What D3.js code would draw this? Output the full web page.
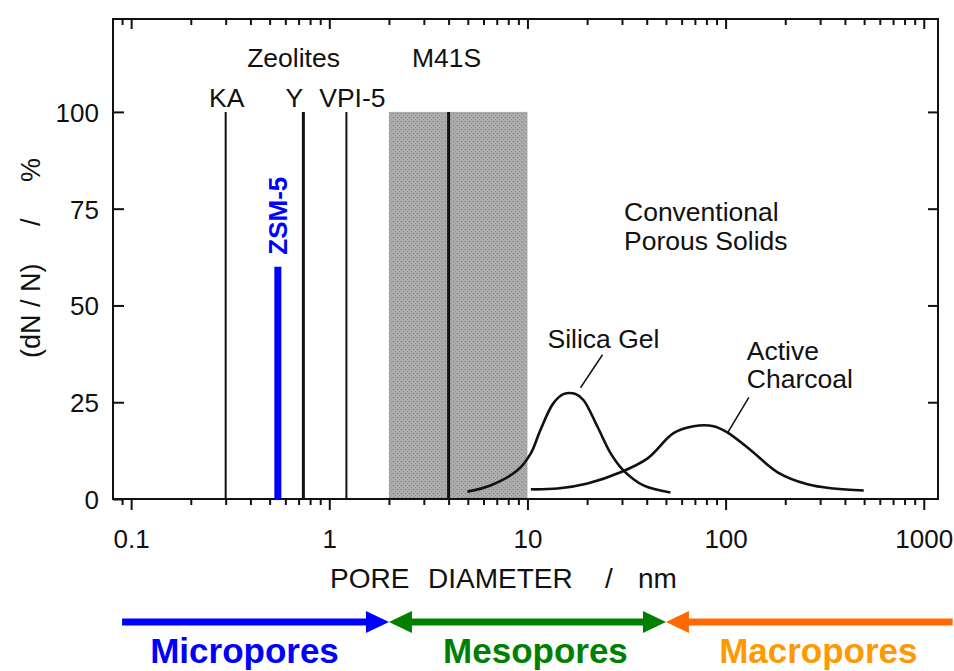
<!DOCTYPE html>
<html>
<head>
<meta charset="utf-8">
<script src="https://cdnjs.cloudflare.com/ajax/libs/d3/7.8.5/d3.min.js"></script>
<style>
  html, body { margin: 0; padding: 0; background: #fff; }
  svg { display: block; font-family: "Liberation Sans", Arial, Helvetica, sans-serif; }
</style>
</head>
<body>
<svg id="chart" width="954" height="671"></svg>
<script>
// data
const majorTicks = [0.1, 1, 10, 100, 1000];
const yTicks = [0, 25, 50, 75, 100];

const zeoliteNames = ["KA", "ZSM-5", "Y", "VPI-5"];
const zeolitePores = [0.30, 0.55, 0.74, 1.22];   // nm
const zeoliteHeights = [100, 60, 100, 100];     // %

const m41sRange = [2, 10];
const m41sPore = 4.0;
const m41sHeight = 100;

const silicaX = [4.98, 6.5, 8.9, 10.4, 11.6, 13.5, 15.2, 17.5, 19.2, 22.6, 26.3, 30.5, 38.5, 52.7];
const silicaY = [1.9, 3.5, 7.4, 11.8, 17.7, 24.7, 27.1, 27.1, 25.5, 18.6, 11.8, 7.4, 3.5, 1.7];

const charcoalX = [10.4, 14.2, 20.1, 29.5, 40.4, 54.6, 68.9, 87.0, 102, 134, 183, 259, 351, 498];
const charcoalY = [2.5, 2.7, 4.0, 6.9, 10.5, 17.0, 18.8, 18.8, 17.2, 12.6, 6.9, 3.8, 2.7, 2.2];

const poreClasses = ["Micropores", "Mesopores", "Macropores"];
const classBounds = [0.09, 2, 50, 1400];

(function () {
const svg = d3.select("#chart");
const mLeft = 113, mRight = 938, mTop = 19, mBottom = 499;

const x = d3.scaleLog().domain([0.081, 1180]).range([mLeft, mRight]);
const y = d3.scaleLinear().domain([0, 124]).range([mBottom, mTop]);

svg.append("rect").attr("width", 954).attr("height", 671).attr("fill", "#fff");

// halftone-like fill for the M41S band
const defs = svg.append("defs");
const pat = defs.append("pattern").attr("id", "halftone")
  .attr("width", 4).attr("height", 4).attr("patternUnits", "userSpaceOnUse");
pat.append("rect").attr("width", 4).attr("height", 4).attr("fill", "#ababab");
pat.append("rect").attr("x", 1).attr("y", 1).attr("width", 1).attr("height", 1).attr("fill", "#808080");
pat.append("rect").attr("x", 3).attr("y", 3).attr("width", 1).attr("height", 1).attr("fill", "#939393");

svg.append("rect")
  .attr("x", x(m41sRange[0]))
  .attr("y", y(m41sHeight))
  .attr("width", x(m41sRange[1]) - x(m41sRange[0]))
  .attr("height", y(0) - y(m41sHeight))
  .attr("fill", "url(#halftone)");

// axes: minor + major ticks
const allTicks = x.ticks().filter(t => t >= 0.09 && t <= 1000);
const minorTicks = allTicks.filter(t => !majorTicks.some(m => Math.abs(m - t) < 1e-9));

svg.append("g").attr("transform", `translate(0,${mBottom})`)
  .call(d3.axisBottom(x).tickValues(minorTicks).tickSize(6).tickSizeOuter(0).tickFormat(""));
svg.append("g").attr("class", "xmajor").attr("transform", `translate(0,${mBottom})`)
  .call(d3.axisBottom(x).tickValues(majorTicks).tickSize(11).tickSizeOuter(0).tickPadding(20)
    .tickFormat(d => d3.format("~g")(d)));
svg.append("g").attr("transform", `translate(0,${mTop})`)
  .call(d3.axisTop(x).tickValues(minorTicks).tickSize(-6).tickSizeOuter(0).tickFormat(""));
svg.append("g").attr("transform", `translate(0,${mTop})`)
  .call(d3.axisTop(x).tickValues(majorTicks).tickSize(-10).tickSizeOuter(0).tickFormat(""));

svg.append("g").attr("class", "ymajor").attr("transform", `translate(${mLeft},0)`)
  .call(d3.axisLeft(y).tickValues(yTicks).tickSize(-11).tickSizeOuter(0).tickPadding(14));
svg.append("g").attr("transform", `translate(${mRight},0)`)
  .call(d3.axisRight(y).tickValues(yTicks.slice(1)).tickSize(-10).tickSizeOuter(0).tickFormat(""));

svg.selectAll(".domain").remove();
svg.selectAll(".tick line").attr("stroke", "#111").attr("stroke-width", 2);
svg.selectAll(".tick text").attr("fill", "#111").attr("font-size", 26)
  .attr("font-family", "'Liberation Sans', Arial, sans-serif");
svg.selectAll(".ymajor .tick text").attr("dy", "0.36em");

// frame
svg.append("rect")
  .attr("x", mLeft).attr("y", mTop)
  .attr("width", mRight - mLeft).attr("height", mBottom - mTop)
  .attr("fill", "none").attr("stroke", "#111").attr("stroke-width", 2);

// zeolite lines
const zeo = zeoliteNames.map((n, i) => ({ name: n, pore: zeolitePores[i], h: zeoliteHeights[i] }));
svg.selectAll(".zeo").data(zeo).enter().append("line")
  .attr("x1", d => x(d.pore)).attr("x2", d => x(d.pore))
  .attr("y1", y(0)).attr("y2", d => y(d.h))
  .attr("stroke", d => d.name === "ZSM-5" ? "#0000ff" : "#111")
  .attr("stroke-width", d => d.name === "ZSM-5" ? 7 : (d.name === "Y" ? 3 : 2));

svg.append("line")
  .attr("x1", x(m41sPore)).attr("x2", x(m41sPore))
  .attr("y1", y(0)).attr("y2", y(m41sHeight))
  .attr("stroke", "#111").attr("stroke-width", 3);

// curves
const line = d3.line().x(d => x(d[0])).y(d => y(d[1])).curve(d3.curveCatmullRom.alpha(0.5));
[[silicaX, silicaY], [charcoalX, charcoalY]].forEach(([xs, ys]) => {
  svg.append("path")
    .attr("d", line(xs.map((v, i) => [v, ys[i]])))
    .attr("fill", "none").attr("stroke", "#111").attr("stroke-width", 2.6);
});

// labels
const label = (txt, px, py, opts = {}) => svg.append("text")
  .attr("x", px).attr("y", py)
  .attr("font-size", opts.size || 26.5)
  .attr("font-weight", opts.weight || "normal")
  .attr("text-anchor", opts.anchor || "middle")
  .attr("fill", opts.fill || "#111")
  .text(txt);

label("Zeolites", x(0.66), y(100) - 45);
label("M41S", x(m41sPore) - 2, y(100) - 45);
label("KA", x(zeolitePores[0]) + 1, y(100) - 5);
label("Y", x(zeolitePores[2]) - 9, y(100) - 5);
label("VPI-5", x(zeolitePores[3]) + 6, y(100) - 5);

svg.append("text")
  .attr("transform", `translate(${x(zeolitePores[1]) + 9},${y(zeoliteHeights[1]) - 12}) rotate(-90)`)
  .attr("font-size", 26).attr("font-weight", "bold").attr("fill", "#0000ff")
  .text("ZSM-5");

label("Conventional", 624, 221, { anchor: "start" });
label("Porous Solids", 624, 250, { anchor: "start" });

// silica gel annotation
const sp = [x(16.3), y(27.2)];
label("Silica Gel", sp[0] - 22, sp[1] - 46, { anchor: "start" });
svg.append("line").attr("x1", sp[0] + 33).attr("y1", sp[1] - 39)
  .attr("x2", sp[0] + 11).attr("y2", sp[1] - 6).attr("stroke", "#111").attr("stroke-width", 1.5);

// active charcoal annotation
const cp = [x(75), y(19)];
label("Active", cp[0] + 46, cp[1] - 65, { anchor: "start" });
label("Charcoal", cp[0] + 46, cp[1] - 37, { anchor: "start" });
svg.append("line").attr("x1", cp[0] + 48).attr("y1", cp[1] - 28)
  .attr("x2", cp[0] + 27).attr("y2", cp[1] + 7).attr("stroke", "#111").attr("stroke-width", 1.5);

// axis titles
const xt = svg.append("text").attr("y", 588).attr("font-size", 28).attr("fill", "#111");
[["PORE", 330], ["DIAMETER", 428], ["/", 605], ["nm", 638]].forEach(([t, px]) =>
  xt.append("tspan").attr("x", px).text(t));

const yt = svg.append("text").attr("transform", "translate(40,358) rotate(-90)")
  .attr("font-size", 27).attr("fill", "#111");
[["(dN / N)", 0], ["/", 132], ["%", 176]].forEach(([t, px]) =>
  yt.append("tspan").attr("x", px).text(t));

// pore class arrows
const classColors = ["#0000ff", "#008000", "#ff6a00"];
const textColors = ["#0000ff", "#008000", "#ff9900"];
const ay = 622, head = 23, hw = 11;
const arrows = svg.append("g");
poreClasses.forEach((name, i) => {
  const x0 = x(classBounds[i]), x1 = x(classBounds[i + 1]);
  const headL = i > 0, headR = i < 2;
  const c = classColors[i];
  arrows.append("line")
    .attr("x1", headL ? x0 + head - 1 : x0).attr("x2", headR ? x1 - head + 1 : x1)
    .attr("y1", ay).attr("y2", ay)
    .attr("stroke", c).attr("stroke-width", 7);
  if (headR) arrows.append("path")
    .attr("d", `M${x1},${ay}L${x1 - head},${ay - hw}L${x1 - head},${ay + hw}Z`).attr("fill", c);
  if (headL) arrows.append("path")
    .attr("d", `M${x0},${ay}L${x0 + head},${ay - hw}L${x0 + head},${ay + hw}Z`).attr("fill", c);
  label(name, (x0 + x1) / 2 - (i === 0 ? 11 : (i === 1 ? -8 : -9)), 663,
    { size: 35, weight: "bold", fill: textColors[i] });
});
})();
</script>
</body>
</html>
